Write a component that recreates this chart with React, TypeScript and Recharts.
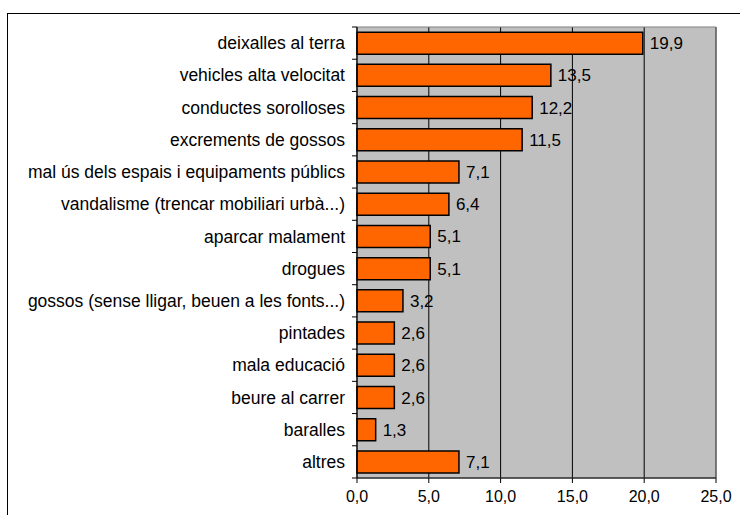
import { BarChart, Bar, XAxis, YAxis, CartesianGrid, LabelList, ReferenceArea } from "recharts";

const categories = [
  "deixalles al terra",
  "vehicles alta velocitat",
  "conductes sorolloses",
  "excrements de gossos",
  "mal ús dels espais i equipaments públics",
  "vandalisme (trencar mobiliari urbà...)",
  "aparcar malament",
  "drogues",
  "gossos (sense lligar, beuen a les fonts...)",
  "pintades",
  "mala educació",
  "beure al carrer",
  "baralles",
  "altres",
];
const values = [19.9, 13.5, 12.2, 11.5, 7.1, 6.4, 5.1, 5.1, 3.2, 2.6, 2.6, 2.6, 1.3, 7.1];
const xTicks = [0, 5, 10, 15, 20, 25];

const data = categories.map((name, i) => ({ name, value: values[i] }));

const W = 740;
const H = 515;
const M = { top: 27, right: 24, left: 0, bottom: 7 };
const X_AXIS_H = 30;
const Y_AXIS_W = 357;
const PLOT_H = H - M.top - M.bottom - X_AXIS_H;
const SLOT = PLOT_H / categories.length;
const FONT = "'Liberation Sans', Arial, sans-serif";

const comma = (v: number) => v.toFixed(1).replace(".", ",");

const CategoryTick = (props: any) => {
  const { x, y, payload, index } = props;
  const axisX = Y_AXIS_W;
  const top = y - SLOT / 2;
  return (
    <g>
      <line x1={axisX - 5} x2={axisX} y1={top} y2={top} stroke="#000" />
      {index === categories.length - 1 && (
        <line x1={axisX - 5} x2={axisX} y1={top + SLOT} y2={top + SLOT} stroke="#000" />
      )}
      <text x={x} y={y} dy="0.35em" textAnchor="end" fontSize={17.5} fill="#000" fontFamily={FONT}>
        {payload.value}
      </text>
    </g>
  );
};

export default function App() {
  return (
    <div style={{ position: "absolute", left: 0, top: 0, width: W, height: H, overflow: "hidden", background: "#fff" }}>
      <div
        style={{
          position: "absolute",
          left: 7,
          top: 13,
          width: W,
          height: H,
          borderLeft: "1.5px solid #000",
          borderTop: "1.5px solid #000",
        }}
      />
      <div style={{ position: "absolute", left: 0, top: 0 }}>
        <BarChart width={W} height={H} data={data} layout="vertical" margin={M} barCategoryGap="16%">
          <CartesianGrid horizontal={false} vertical stroke="#000" fill="#C0C0C0" fillOpacity={1} />
          <ReferenceArea x1={0} x2={25} fill="none" stroke="#808080" strokeWidth={1} ifOverflow="visible" />
          <XAxis
            type="number"
            domain={[0, 25]}
            ticks={xTicks}
            tickFormatter={comma}
            height={X_AXIS_H}
            stroke="#000"
            tickSize={5}
            tickMargin={8}
            tick={{ fill: "#000", fontSize: 16, fontFamily: FONT }}
          />
          <YAxis
            type="category"
            dataKey="name"
            width={Y_AXIS_W}
            stroke="#000"
            tickLine={false}
            tickSize={5}
            tickMargin={7}
            interval={0}
            tick={<CategoryTick />}
          />
          <Bar dataKey="value" fill="#FF6600" stroke="#000" strokeWidth={1.5} isAnimationActive={false}>
            <LabelList
              dataKey="value"
              position="right"
              offset={7}
              formatter={(v: any) => comma(Number(v))}
              style={{ fill: "#000", fontSize: 17, fontFamily: FONT }}
            />
          </Bar>
        </BarChart>
      </div>
    </div>
  );
}
